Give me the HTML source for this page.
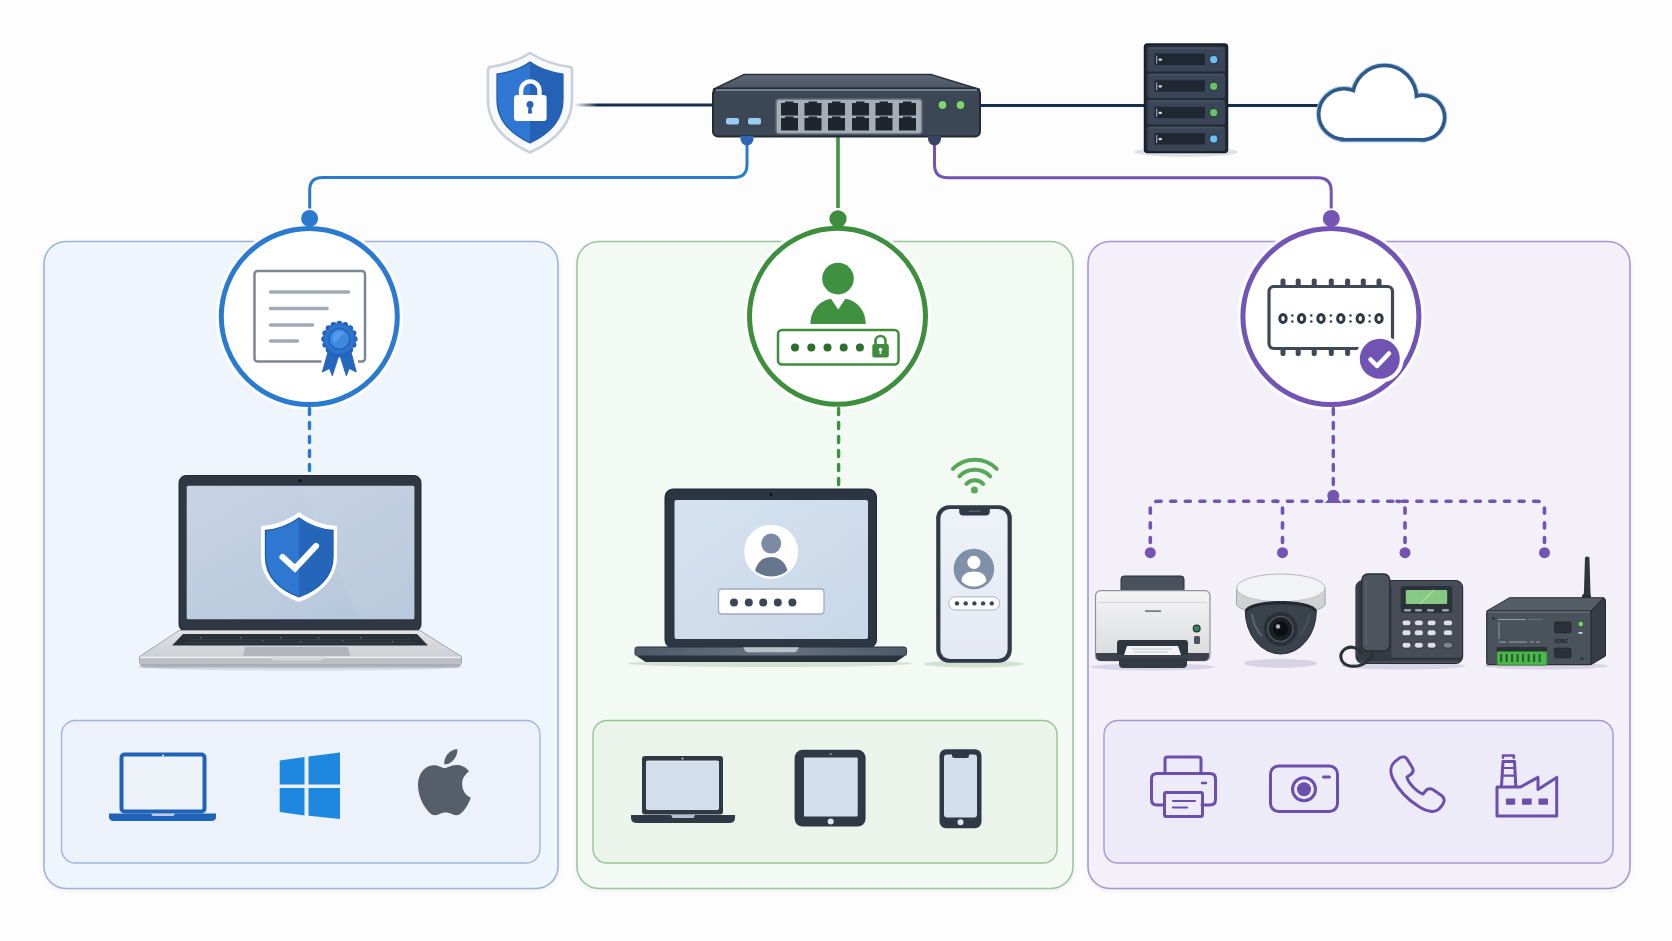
<!DOCTYPE html>
<html><head><meta charset="utf-8"><title>Network Access Control</title>
<style>
html,body{margin:0;padding:0;background:#fdfdfd;overflow:hidden;font-family:"Liberation Sans",sans-serif;}
svg{display:block}
</style></head><body>
<svg width="1672" height="941" viewBox="0 0 1672 941">
<defs>
<filter id="psh" x="-5%" y="-5%" width="110%" height="110%"><feDropShadow dx="0" dy="2" stdDeviation="2.5" flood-color="#8090a0" flood-opacity="0.12"/></filter>
<linearGradient id="scr1" x1="0" y1="0" x2="1" y2="1"><stop offset="0" stop-color="#c7d4e5"/><stop offset="1" stop-color="#b5c5da"/></linearGradient>
<linearGradient id="scr2" x1="0" y1="0" x2="1" y2="1"><stop offset="0" stop-color="#d6e2ef"/><stop offset="1" stop-color="#c8d7e8"/></linearGradient>
<linearGradient id="scr3" x1="0" y1="0" x2="0" y2="1"><stop offset="0" stop-color="#eef2f8"/><stop offset="1" stop-color="#e3e9f3"/></linearGradient>
<linearGradient id="swtop" x1="0" y1="0" x2="0" y2="1"><stop offset="0" stop-color="#5d6877"/><stop offset="1" stop-color="#4a5463"/></linearGradient>
<linearGradient id="silver" x1="0" y1="0" x2="0" y2="1"><stop offset="0" stop-color="#e1e3e6"/><stop offset="1" stop-color="#c4c8cd"/></linearGradient>
<linearGradient id="prn" x1="0" y1="0" x2="0" y2="1"><stop offset="0" stop-color="#f4f4f5"/><stop offset="1" stop-color="#d9dadd"/></linearGradient>
<linearGradient id="lbase" x1="0" y1="0" x2="1" y2="0"><stop offset="0" stop-color="#4f5a68"/><stop offset="0.5" stop-color="#687381"/><stop offset="1" stop-color="#4f5a68"/></linearGradient>
<linearGradient id="fadeL" gradientUnits="userSpaceOnUse" x1="574" y1="0" x2="713" y2="0"><stop offset="0" stop-color="#15304e" stop-opacity="0"/><stop offset="0.17" stop-color="#15304e"/><stop offset="1" stop-color="#15304e"/></linearGradient>
</defs>

<!-- ===== PANELS ===== -->
<g filter="url(#psh)">
<rect x="44" y="241.5" width="514" height="647" rx="22" fill="#eff5fd" stroke="#9ab4d9" stroke-width="1.6"/>
<rect x="577" y="241.5" width="496" height="647" rx="22" fill="#f3f9f3" stroke="#9cc79c" stroke-width="1.6"/>
<rect x="1088" y="241.5" width="542" height="647" rx="22" fill="#f3f0fa" stroke="#a796d3" stroke-width="1.6"/>
</g>
<rect x="61.5" y="720.5" width="478.5" height="142.5" rx="14" fill="#edf1f9" stroke="#9fb6d8" stroke-width="1.4"/>
<rect x="593" y="720.5" width="464" height="142.5" rx="14" fill="#ebf4eb" stroke="#96c496" stroke-width="1.4"/>
<rect x="1104" y="720.5" width="509" height="142.5" rx="14" fill="#eeebf8" stroke="#a596d3" stroke-width="1.4"/>

<!-- ===== TOP CONNECTORS ===== -->
<g fill="none" stroke-width="3">
<path d="M574 105 H713" stroke="url(#fadeL)"/>
<path d="M980 105.5 H1144" stroke="#15304e"/>
<path d="M1227 105.5 H1318" stroke="#15304e"/>
<path d="M747 145 V164.5 Q747 177.5 734 177.5 H322.5 Q309.7 177.5 309.7 190.3 V208.5" stroke="#2a7ad0"/>
<path d="M838 137 V208" stroke="#3f9140" stroke-width="3.6"/>
<path d="M934.5 145 V164.5 Q934.5 177.8 947.8 177.8 H1317.8 Q1331.2 177.8 1331.2 191 V208.5" stroke="#7254b4"/>
</g>

<!-- ===== CIRCLES ===== -->
<g>
<circle cx="309.3" cy="316.5" r="93.5" fill="#ffffff" opacity="0.85"/>
<circle cx="309.3" cy="316.5" r="88" fill="#ffffff" stroke="#2a7ad0" stroke-width="5"/>
<circle cx="309.6" cy="218.4" r="8.5" fill="#2a78d0"/>
<circle cx="837.5" cy="316.3" r="93.5" fill="#ffffff" opacity="0.85"/>
<circle cx="837.5" cy="316.3" r="88" fill="#ffffff" stroke="#3d8f3d" stroke-width="5"/>
<circle cx="838" cy="218.9" r="8.6" fill="#3d8d3d"/>
<circle cx="1330.9" cy="316.5" r="93.5" fill="#ffffff" opacity="0.85"/>
<circle cx="1330.9" cy="316.5" r="88" fill="#ffffff" stroke="#7254b4" stroke-width="5"/>
<circle cx="1331.3" cy="218.4" r="8.5" fill="#7455b5"/>
</g>

<!-- ===== DASHED ===== -->
<g fill="none" stroke-width="3.4" stroke-linecap="round" stroke-dasharray="6 8">
<path d="M309.5 408.5 V472" stroke="#2a7ad0"/>
<path d="M838.6 408.5 V486" stroke="#3f8f3f"/>
<path d="M1333.3 408.5 V490" stroke="#7254b4"/>
</g>
<g fill="none" stroke="#7254b4" stroke-width="3.6" stroke-linecap="round" stroke-dasharray="5 9.6">
<path d="M1150.3 542.5 V509 Q1150.3 501.2 1158.3 501.2 H1328"/>
<path d="M1544.5 542.5 V509 Q1544.5 501.2 1536.5 501.2 H1339"/>
<path d="M1282.5 542.5 V509 Q1282.5 501.2 1274.5 501.2"/>
<path d="M1405 542.5 V509 Q1405 501.2 1397 501.2"/>
</g>
<g fill="#7254b4">
<path d="M1324 503 Q1328 501 1329 497 H1337.6 Q1338.6 501 1342.6 503 Z"/>
<circle cx="1333.3" cy="495.8" r="6"/>
<circle cx="1150.3" cy="552.7" r="5.5"/><circle cx="1282.5" cy="552.7" r="5.5"/><circle cx="1405" cy="552.7" r="5.5"/><circle cx="1544.5" cy="552.7" r="5.5"/>
</g>

<!-- ===== TOP SHIELD ===== -->
<g>
<path d="M530 53 C541 60 555 65 570 67 Q572 67.5 572 69.5 V100 C572 124 555 141 530 152.5 C505 141 488 124 488 100 V69.5 Q488 67.5 490 67 C505 65 519 60 530 53 Z" fill="#f8f9fb" stroke="#c9d0da" stroke-width="2.6"/>
<path d="M530 62 C540 69 551 72.5 563 74 V100 C563 120 549 134 530 143 C511 134 497 120 497 100 V74 C509 72.5 520 69 530 62 Z" fill="#2f77d2" stroke="#1f58a6" stroke-width="1.2"/>
<path d="M530 62.8 C540 69.5 550.5 73 562.4 74.5 V100 C562.4 119.5 548.6 133.5 530 142.3 Z" fill="#2562b6"/>
<path d="M521.1 95.5 V90.6 A9.2 9.2 0 0 1 539.5 90.6 V95.5" fill="none" stroke="#ffffff" stroke-width="4.4"/>
<rect x="514" y="95" width="32.6" height="26" rx="3" fill="#ffffff"/>
<circle cx="530" cy="104.6" r="3.5" fill="#2563b7"/>
<path d="M528.7 106 H531.3 L532.2 113.5 H527.8 Z" fill="#2563b7"/>
</g>

<!-- ===== SWITCH ===== -->
<g>
<path d="M744 74.5 H931 L980 89.5 H713 Z" fill="url(#swtop)" stroke="#2a323d" stroke-width="1.5"/>
<rect x="713" y="88.5" width="267" height="48" rx="5" fill="#3c4756" stroke="#222a34" stroke-width="2"/>
<path d="M716 90 H977" stroke="#8a95a3" stroke-width="1.5"/>
<rect x="776" y="99" width="146" height="35" rx="3" fill="#a5adb7" stroke="#5f6976" stroke-width="1.5"/>
<g fill="#1e252d">
<path id="pt" d="M781 103 H785 V101.5 H793.5 V103 H798 V115.5 H781 Z"/>
<use href="#pt" x="23.5"/><use href="#pt" x="47"/><use href="#pt" x="71"/><use href="#pt" x="94.5"/><use href="#pt" x="118"/>
<use href="#pt" y="15"/><use href="#pt" x="23.5" y="15"/><use href="#pt" x="47" y="15"/><use href="#pt" x="71" y="15"/><use href="#pt" x="94.5" y="15"/><use href="#pt" x="118" y="15"/>
</g>
<rect x="726" y="118" width="13" height="6.5" rx="2" fill="#9acbf2"/>
<rect x="748" y="118" width="13" height="6.5" rx="2" fill="#9acbf2"/>
<circle cx="942.5" cy="105" r="4.5" fill="#84d46c" stroke="#283240" stroke-width="1"/>
<circle cx="960.5" cy="105" r="4.5" fill="#84d46c" stroke="#283240" stroke-width="1"/>
<path d="M740.5 136 V139 A6.5 6.5 0 0 0 753.5 139 V136 Z" fill="#2d66b2"/>
<path d="M928 136 V139 A6.5 6.5 0 0 0 941 139 V136 Z" fill="#3b4268"/>
</g>

<!-- ===== SERVER ===== -->
<g>
<ellipse cx="1186" cy="152" rx="52" ry="5" fill="#dde2e8"/>
<rect x="1144.5" y="44" width="83" height="108.5" rx="3" fill="#222b36" stroke="#161d26" stroke-width="1.5"/>
<rect x="1147.5" y="47" width="77.5" height="24.5" rx="2" fill="#3a4657"/>
<path d="M1149 48.2 H1223" stroke="#52607280" stroke-width="1.5"/>
<rect x="1154.5" y="53.6" width="50.5" height="11.5" rx="1" fill="#1f2833"/>
<rect x="1156" y="55.6" width="1.3" height="8" fill="#8e99a6"/>
<rect x="1158.5" y="58.6" width="3.5" height="2.2" rx="1" fill="#d8dde4"/>
<circle cx="1213.7" cy="59.6" r="4.1" fill="#6cc0f0" stroke="#1c242e" stroke-width="0.8"/>
<rect x="1147.5" y="73.5" width="77.5" height="24.5" rx="2" fill="#3a4657"/>
<path d="M1149 74.7 H1223" stroke="#52607280" stroke-width="1.5"/>
<rect x="1154.5" y="80.3" width="50.5" height="11.5" rx="1" fill="#1f2833"/>
<rect x="1156" y="82.3" width="1.3" height="8" fill="#8e99a6"/>
<rect x="1158.5" y="85.3" width="3.5" height="2.2" rx="1" fill="#d8dde4"/>
<circle cx="1213.7" cy="86.3" r="4.1" fill="#66c466" stroke="#1c242e" stroke-width="0.8"/>
<rect x="1147.5" y="100" width="77.5" height="24.5" rx="2" fill="#3a4657"/>
<path d="M1149 101.2 H1223" stroke="#52607280" stroke-width="1.5"/>
<rect x="1154.5" y="106.7" width="50.5" height="11.5" rx="1" fill="#1f2833"/>
<rect x="1156" y="108.7" width="1.3" height="8" fill="#8e99a6"/>
<rect x="1158.5" y="111.7" width="3.5" height="2.2" rx="1" fill="#d8dde4"/>
<circle cx="1213.7" cy="112.7" r="4.1" fill="#66c466" stroke="#1c242e" stroke-width="0.8"/>
<rect x="1147.5" y="126.5" width="77.5" height="24.5" rx="2" fill="#3a4657"/>
<path d="M1149 127.7 H1223" stroke="#52607280" stroke-width="1.5"/>
<rect x="1154.5" y="133" width="50.5" height="11.5" rx="1" fill="#1f2833"/>
<rect x="1156" y="135" width="1.3" height="8" fill="#8e99a6"/>
<rect x="1158.5" y="138" width="3.5" height="2.2" rx="1" fill="#d8dde4"/>
<circle cx="1213.7" cy="139" r="4.1" fill="#6cc0f0" stroke="#1c242e" stroke-width="0.8"/>
</g>

<!-- ===== CLOUD ===== -->
<g>
<g fill="#a9c0dc" stroke="#a9c0dc" stroke-width="9"><circle cx="1344" cy="114" r="23.5"/><circle cx="1384.5" cy="97.5" r="30.2"/><circle cx="1422.4" cy="117.5" r="20.4"/><rect x="1344" y="114" width="78.4" height="23.9"/></g>
<g fill="#2d5a8c" stroke="#2d5a8c" stroke-width="7"><circle cx="1344" cy="114" r="23.5"/><circle cx="1384.5" cy="97.5" r="30.2"/><circle cx="1422.4" cy="117.5" r="20.4"/><rect x="1344" y="114" width="78.4" height="23.9"/></g>
<g fill="#ffffff"><circle cx="1344" cy="114" r="23.5"/><circle cx="1384.5" cy="97.5" r="30.2"/><circle cx="1422.4" cy="117.5" r="20.4"/><rect x="1344" y="114" width="78.4" height="23.9"/></g>
</g>

<!-- ===== CERTIFICATE ===== -->
<g>
<rect x="254.5" y="271" width="110.5" height="90.5" rx="3" fill="#ffffff" stroke="#7c8795" stroke-width="2.5"/>
<g stroke="#a2aab4" stroke-width="3.6" stroke-linecap="round">
<path d="M270.5 292 H348.5"/><path d="M270.5 308.5 H327"/><path d="M270.5 325 H312.5"/><path d="M270.5 341 H297.5"/>
</g>
<path d="M321.5 355 H358 V364 H321.5 Z" fill="#ffffff"/>
<path d="M328.6 350 L339 355 L332.3 375.8 L329.5 368.5 L322.3 372 Z" fill="#2466c0" stroke="#1d58aa" stroke-width="0.8"/>
<path d="M350.5 350 L339.8 355 L346.3 375.8 L349.2 368.5 L356.3 372 Z" fill="#2466c0" stroke="#1d58aa" stroke-width="0.8"/>
<g fill="#2063bd"><circle cx="354.60" cy="339.00" r="3"/><circle cx="353.44" cy="344.82" r="3"/><circle cx="350.15" cy="349.75" r="3"/><circle cx="345.22" cy="353.04" r="3"/><circle cx="339.40" cy="354.20" r="3"/><circle cx="333.58" cy="353.04" r="3"/><circle cx="328.65" cy="349.75" r="3"/><circle cx="325.36" cy="344.82" r="3"/><circle cx="324.20" cy="339.00" r="3"/><circle cx="325.36" cy="333.18" r="3"/><circle cx="328.65" cy="328.25" r="3"/><circle cx="333.58" cy="324.96" r="3"/><circle cx="339.40" cy="323.80" r="3"/><circle cx="345.22" cy="324.96" r="3"/><circle cx="350.15" cy="328.25" r="3"/><circle cx="353.44" cy="333.18" r="3"/></g>
<circle cx="339.4" cy="339" r="15.6" fill="#2a6cc6"/>
<circle cx="339.4" cy="339" r="14.5" fill="#2f74cc"/>
<circle cx="339.4" cy="339" r="10.3" fill="#3d89df" stroke="#1f5fb3" stroke-width="1.2"/>
<path d="M332.4 337 A8 8 0 0 1 344.4 332.5 L334.4 344 Z" fill="#6aa8ee" opacity="0.55"/>
</g>

<!-- ===== USER + PASSWORD ===== -->
<g>
<circle cx="838" cy="278.6" r="15.8" fill="#3f913f"/>
<path d="M810.5 324 C810.5 310 820 300.5 831 298.8 L838.2 309.5 L845.4 298.8 C856.4 300.5 865.8 310 865.8 324 Z" fill="#3f913f"/>
<rect x="778" y="330" width="120.5" height="34.5" rx="4" fill="#ffffff" stroke="#3d8d3d" stroke-width="2.5"/>
<g fill="#2f6e2f"><circle cx="795" cy="347.5" r="4"/><circle cx="811.3" cy="347.5" r="4"/><circle cx="827.5" cy="347.5" r="4"/><circle cx="843.7" cy="347.5" r="4"/><circle cx="859.9" cy="347.5" r="4"/></g>
<path d="M875.5 344 V341 A5 5 0 0 1 885.5 341 V344" fill="none" stroke="#3d8d3d" stroke-width="2.6"/>
<rect x="872.3" y="344" width="16.5" height="13.5" rx="2" fill="#3d8d3d"/>
<circle cx="880.5" cy="349.5" r="1.8" fill="#ffffff"/><rect x="879.7" y="350" width="1.6" height="4" fill="#ffffff"/>
</g>

<!-- ===== CHIP ===== -->
<g>
<g fill="#3f4956">
<rect x="1280.5" y="278.5" width="5" height="9" rx="2"/><rect x="1295.7" y="278.5" width="5" height="9" rx="2"/><rect x="1311.7" y="278.5" width="5" height="9" rx="2"/><rect x="1328.8" y="278.5" width="5" height="9" rx="2"/><rect x="1345.1" y="278.5" width="5" height="9" rx="2"/><rect x="1360.8" y="278.5" width="5" height="9" rx="2"/><rect x="1376.5" y="278.5" width="5" height="9" rx="2"/>
<rect x="1280.5" y="347.5" width="5" height="8.5" rx="2"/><rect x="1295.7" y="347.5" width="5" height="8.5" rx="2"/><rect x="1311.7" y="347.5" width="5" height="8.5" rx="2"/><rect x="1328.8" y="347.5" width="5" height="8.5" rx="2"/><rect x="1345.1" y="347.5" width="5" height="8.5" rx="2"/><rect x="1360.8" y="347.5" width="5" height="8.5" rx="2"/>
</g>
<rect x="1269" y="286.5" width="123.5" height="62" rx="5" fill="#ffffff" stroke="#3f4956" stroke-width="3.2"/>
<g fill="none" stroke="#2f3944" stroke-width="3">
<ellipse cx="1283" cy="318.5" rx="3.2" ry="4"/><ellipse cx="1301.6" cy="318.5" rx="3.2" ry="4"/><ellipse cx="1321" cy="318.5" rx="3.2" ry="4"/><ellipse cx="1340.8" cy="318.5" rx="3.2" ry="4"/><ellipse cx="1360.3" cy="318.5" rx="3.2" ry="4"/><ellipse cx="1379" cy="318.5" rx="3.2" ry="4"/>
</g>
<g fill="#2f3944">
<circle cx="1292.3" cy="315.5" r="1.2"/><circle cx="1292.3" cy="321.5" r="1.2"/>
<circle cx="1311.3" cy="315.5" r="1.2"/><circle cx="1311.3" cy="321.5" r="1.2"/>
<circle cx="1330.9" cy="315.5" r="1.2"/><circle cx="1330.9" cy="321.5" r="1.2"/>
<circle cx="1350.5" cy="315.5" r="1.2"/><circle cx="1350.5" cy="321.5" r="1.2"/>
<circle cx="1369.6" cy="315.5" r="1.2"/><circle cx="1369.6" cy="321.5" r="1.2"/>
</g>
<circle cx="1379.8" cy="358.8" r="24" fill="#ffffff"/>
<circle cx="1379.8" cy="358.8" r="20" fill="#7153b3"/>
<path d="M1370.5 359.5 L1377 366 L1389 353.5" fill="none" stroke="#ffffff" stroke-width="4.5" stroke-linecap="round" stroke-linejoin="round"/>
</g>

<!-- ===== P1 LAPTOP ===== -->
<g>
<ellipse cx="300" cy="667" rx="163" ry="3.5" fill="#d3dbe6"/>
<rect x="179" y="475.5" width="242" height="156" rx="7" fill="#2e3742" stroke="#232a33" stroke-width="1"/>
<rect x="186.7" y="485.8" width="227.7" height="133.4" rx="1.5" fill="url(#scr1)"/>
<path d="M300 485.8 L414.4 485.8 L414.4 619.2 L360 619.2 Z" fill="#ffffff" opacity="0.06"/>
<circle cx="300" cy="480.5" r="1.6" fill="#10151b"/>
<path d="M179 630.5 H420 L461.5 656.5 V661 Q461.5 667 455.5 667 H145.5 Q139.5 667 139.5 661 V656.5 Z" fill="url(#silver)" stroke="#a3a8af" stroke-width="1"/>
<path d="M183 634 H417 L428 645.5 H172 Z" fill="#2a3139"/>
<g fill="#7b838d" opacity="0.9">
<rect x="200" y="637" width="1.2" height="1.2"/><rect x="240" y="637" width="1.2" height="1.2"/><rect x="262" y="640" width="1.2" height="1.2"/><rect x="280" y="637" width="1.2" height="1.2"/><rect x="300" y="641" width="1.2" height="1.2"/><rect x="318" y="637" width="1.2" height="1.2"/><rect x="342" y="640" width="1.2" height="1.2"/><rect x="360" y="637" width="1.2" height="1.2"/><rect x="392" y="641" width="1.2" height="1.2"/>
</g>
<path d="M190 639.5 H411 M186 642.5 H414" stroke="#3a424c" stroke-width="0.8"/>
<path d="M245 647 H348 L350 656 H243 Z" fill="#b1b5bb"/>
<path d="M140 657.5 H461" stroke="#eef0f2" stroke-width="1.3"/>
<path d="M140 658.3 V661 Q140 666.5 145.5 666.5 H455.5 Q461 666.5 461 661 V658.3 Z" fill="#bdc1c7"/>
<path d="M140 664 Q141 666.5 145.5 666.5 H455.5 Q460 666.5 461 664 Z" fill="#a9adb4"/>
<path d="M271.5 657.5 H324 L322 660.5 H273.5 Z" fill="#d2d5d9"/>
<path d="M299 512 C311 521 323 525 337 526 V557 C337 579 320 594 299 602 C278 594 261 579 261 557 V526 C275 525 287 521 299 512 Z" fill="#ffffff"/>
<path d="M299 518 C310 526 321 529.5 333 530.5 V557 C333 577 318 590 299 597 C280 590 265.5 577 265.5 557 V530.5 C277 529.5 288 526 299 518 Z" fill="#2f78d2" stroke="#1d5aa8" stroke-width="1.3"/>
<path d="M299 518.8 C310 526.6 320.5 530 332.3 531.2 V557 C332.3 576.5 317.6 589.3 299 596.2 Z" fill="#2566bb"/>
<path d="M282.5 557 L295 568.5 L316 546" fill="none" stroke="#ffffff" stroke-width="6.2" stroke-linecap="round" stroke-linejoin="miter"/>
</g>

<!-- ===== P2 LAPTOP ===== -->
<g>
<ellipse cx="770" cy="663.5" rx="142" ry="3.5" fill="#d2e2d2"/>
<rect x="665" y="489" width="211.5" height="159" rx="8" fill="#2c3642" stroke="#1f2730" stroke-width="1"/>
<rect x="674.5" y="500" width="193.5" height="139" rx="2" fill="url(#scr2)"/>
<circle cx="771" cy="494.5" r="1.6" fill="#10151b"/>
<path d="M634.5 650 Q634.5 646.6 638 646.6 H903.5 Q907 646.6 907 650 V654.5 L896 662 H645.5 L634.5 654.5 Z" fill="#27313c"/>
<path d="M635.3 647.6 H906.2 V655.5 H635.3 Z" fill="url(#lbase)"/>
<path d="M743 647.3 H799 L796.5 651.3 Q795.5 652.3 793.5 652.3 H748.5 Q746.5 652.3 745.5 651.3 Z" fill="#b9c0c8"/>
<circle cx="771.2" cy="551.7" r="26" fill="#ffffff"/>
<circle cx="771.2" cy="543.6" r="10" fill="#7b8ba3"/>
<clipPath id="avc"><circle cx="771.2" cy="551.7" r="25"/></clipPath>
<path clip-path="url(#avc)" d="M754 580 C754 564 761.5 557 771.2 557 C781 557 788.5 564 788.5 580 Z" fill="#66768e"/>
<circle cx="771.2" cy="551.7" r="26" fill="none" stroke="#ffffff" stroke-width="2"/>
<rect x="718.5" y="589" width="105.5" height="25" rx="3" fill="#ffffff" stroke="#9fadbd" stroke-width="1.3"/>
<g fill="#3b4657"><circle cx="734" cy="602.4" r="4"/><circle cx="748.8" cy="602.4" r="4"/><circle cx="763.2" cy="602.4" r="4"/><circle cx="777.8" cy="602.4" r="4"/><circle cx="792.4" cy="602.4" r="4"/></g>
</g>

<!-- ===== P2 PHONE ===== -->
<g>
<ellipse cx="974" cy="664" rx="50" ry="3.5" fill="#d2e2d2"/>
<rect x="936.2" y="505.2" width="75.6" height="157.5" rx="13" fill="#2f3a46"/>
<rect x="940.4" y="509" width="67.2" height="150" rx="9.5" fill="url(#scr3)"/>
<path d="M959.2 508.5 H989.8 V511.5 Q989.8 515.5 985.8 515.5 H963.2 Q959.2 515.5 959.2 511.5 Z" fill="#2f3a46"/>
<rect x="968.5" y="510.5" width="12" height="1.4" rx="0.7" fill="#55606d"/>
<circle cx="973.9" cy="569" r="20.3" fill="#7f90a8"/>
<circle cx="973.9" cy="562.3" r="6.6" fill="#ffffff"/>
<path d="M961.5 581 C961.5 574.5 967 571.5 973.9 571.5 C980.8 571.5 986.3 574.5 986.3 581 C983 585 978.5 586.5 973.9 586.5 C969.3 586.5 964.8 585 961.5 581 Z" fill="#ffffff"/>
<rect x="948.7" y="596.8" width="50.9" height="13.2" rx="6.6" fill="#ffffff" stroke="#a9b5c4" stroke-width="1"/>
<g fill="#3b4657"><circle cx="957" cy="603.4" r="2.2"/><circle cx="965.7" cy="603.4" r="2.2"/><circle cx="974.4" cy="603.4" r="2.2"/><circle cx="983.1" cy="603.4" r="2.2"/><circle cx="991.8" cy="603.4" r="2.2"/></g>
</g>

<!-- ===== WIFI ===== -->
<g fill="none" stroke="#58a658" stroke-width="4" stroke-linecap="round" transform="translate(0.4 1.3)">
<path d="M966 482.5 A11.5 11.5 0 0 1 982.8 482.5"/>
<path d="M959 475 A21.5 21.5 0 0 1 989.8 475"/>
<path d="M952.5 467.5 A31 31 0 0 1 996.3 467.5"/>
</g>
<circle cx="974.4" cy="490" r="3.5" fill="#5aa95a"/>

<!-- ===== PRINTER ===== -->
<g>
<ellipse cx="1153" cy="667" rx="62" ry="3.5" fill="#d9d5e6"/>
<path d="M1118 599 L1121 593 V579 Q1121 576 1124 576 H1181 Q1184 576 1184 579 V593 L1187 599 Z" fill="#48515c" stroke="#262d36" stroke-width="1"/>
<path d="M1119 598 H1186" stroke="#262d36" stroke-width="2"/>
<rect x="1095.5" y="590.6" width="114.5" height="70" rx="5" fill="url(#prn)" stroke="#8e929a" stroke-width="1.2"/>
<path d="M1098 602.5 H1207" stroke="#d3d5d9" stroke-width="1.2"/>
<path d="M1096 653 H1209 V656 Q1209 661 1203 661 H1102 Q1096 661 1096 656 Z" fill="#3c434d"/>
<path d="M1117 655 V643 Q1117 640 1120 640 H1185 Q1188 640 1188 643 V655 Z" fill="#2e353e"/>
<path d="M1124 655 L1127 646 H1178 L1181 655 Z" fill="#f4f4f4"/>
<path d="M1132 649 H1172 M1134 652 H1168" stroke="#b9bcc2" stroke-width="0.8"/>
<path d="M1119 658 H1187 V664 Q1187 668 1183 668 H1123 Q1119 668 1119 664 Z" fill="#323a44"/>
<rect x="1145" y="610.3" width="16" height="1.6" fill="#6b7079"/>
<circle cx="1196.7" cy="628.5" r="3.4" fill="#2f8a4d" stroke="#2a313a" stroke-width="1.2"/>
<rect x="1194" y="636" width="6" height="8" rx="1.5" fill="#4c535d"/>
</g>

<!-- ===== DOME CAMERA ===== -->
<g>
<ellipse cx="1280.7" cy="663.3" rx="36.4" ry="4.5" fill="#d6d3e2"/>
<path d="M1236.5 588 V604 A44.3 10 0 0 0 1325.1 604 V588 Z" fill="#cfd1d5" stroke="#a3a7ad" stroke-width="1"/>
<ellipse cx="1280.8" cy="588" rx="44.3" ry="14" fill="#f2f3f4" stroke="#b4b8be" stroke-width="1"/>
<path d="M1239 592 A42 11 0 0 0 1322.6 592" fill="none" stroke="#c9ccd1" stroke-width="1.5"/>
<path d="M1245.3 611 A35.5 9.5 0 0 1 1316.3 611 A35.5 43 0 0 1 1245.3 611 Z" fill="#3a424c" stroke="#242a31" stroke-width="1"/>
<path d="M1246 611 A35 9 0 0 1 1315.6 611" fill="none" stroke="#22282f" stroke-width="2.5"/>
<path d="M1252 614 C1253 622 1256 630 1262 636" stroke="#6a727c" stroke-width="1.8" fill="none" opacity="0.8"/>
<path d="M1309 614 C1308 622 1305 630 1299 636" stroke="#5a626c" stroke-width="1.5" fill="none" opacity="0.6"/>
<circle cx="1280.5" cy="629" r="17" fill="#2a3037"/>
<circle cx="1280.5" cy="629" r="12.5" fill="#1b2026" stroke="#4d5560" stroke-width="1.5"/>
<circle cx="1280.5" cy="629" r="7.5" fill="#0c0f13"/>
<circle cx="1278" cy="626.5" r="2.2" fill="#a9b3be"/>
</g>

<!-- ===== DESK PHONE ===== -->
<g>
<ellipse cx="1403" cy="666" rx="62" ry="3.5" fill="#d9d5e6"/>
<rect x="1356" y="580.5" width="106.6" height="83" rx="7" fill="#464d57" stroke="#2a3038" stroke-width="1.2"/>
<path d="M1357 659 H1462" stroke="#30363e" stroke-width="3"/>
<rect x="1357.5" y="581" width="34" height="80" rx="6" fill="#343a43"/>
<rect x="1400.7" y="586" width="51.6" height="27" rx="3" fill="#2c323a"/>
<rect x="1405.8" y="590" width="41.4" height="14" rx="1" fill="#86c982"/>
<path d="M1420 604 L1434 590" stroke="#b8e6b3" stroke-width="2" opacity="0.5"/>
<g fill="#9aa1a9"><rect x="1404" y="609" width="7" height="2.6" rx="1"/><rect x="1415" y="609" width="7" height="2.6" rx="1"/><rect x="1427" y="609" width="7" height="2.6" rx="1"/><rect x="1442" y="609" width="7" height="2.6" rx="1"/></g>
<g fill="#dcdfe3" stroke="#2a3038" stroke-width="0.8">
<rect x="1402" y="620" width="9" height="5.8" rx="2.8"/><rect x="1414.3" y="620" width="9" height="5.8" rx="2.8"/><rect x="1427.1" y="620" width="9" height="5.8" rx="2.8"/>
<rect x="1402" y="629.8" width="9" height="6" rx="2.5"/><rect x="1414.3" y="629.8" width="9" height="6" rx="2.5"/><rect x="1427.1" y="629.8" width="9" height="6" rx="2.5"/>
<rect x="1402" y="642.3" width="9" height="5.8" rx="2.8"/><rect x="1414.3" y="642.3" width="9" height="5.8" rx="2.8"/><rect x="1427.1" y="642.3" width="9" height="5.8" rx="2.8"/>
<rect x="1443.2" y="620" width="9.5" height="5.8" rx="2.9"/><rect x="1443.2" y="629.8" width="9.5" height="5.8" rx="2.9"/>
</g>
<rect x="1443.2" y="642.3" width="9.5" height="5.8" rx="2.9" fill="#7d858f" stroke="#2a3038" stroke-width="0.8"/>
<rect x="1361.8" y="574" width="28" height="77" rx="6" fill="#4b535d" stroke="#262c33" stroke-width="1.3"/>
<path d="M1366 580 V645" stroke="#5a626c" stroke-width="2" opacity="0.7"/>
<path d="M1373 651 C1372 660 1362 668 1350 666 C1340 664 1338 654 1345 649 C1351 645 1358 648 1361 653" fill="none" stroke="#2b3139" stroke-width="3" stroke-linecap="round"/>
</g>

<!-- ===== GATEWAY ===== -->
<g>
<ellipse cx="1546" cy="666" rx="62" ry="3.5" fill="#d9d5e6"/>
<path d="M1585 557.5 Q1587.2 555.5 1589.4 557.5 L1590.6 596 H1583.8 Z" fill="#2f353d"/>
<rect x="1582" y="594" width="9" height="9" rx="2" fill="#2a3038"/>
<path d="M1486.7 611 L1509.5 597.7 H1603.5 L1591 611 Z" fill="#555d67" stroke="#2b3139" stroke-width="1"/>
<path d="M1591 611 L1603.5 597.7 Q1605.5 598.5 1605.5 601 V656 L1591 664.7 Z" fill="#363c45" stroke="#22282f" stroke-width="1"/>
<rect x="1486.7" y="611" width="104.3" height="53.7" rx="2.5" fill="#4a525c" stroke="#2b3139" stroke-width="1.2"/>
<path d="M1488 612.2 H1590" stroke="#6a727c" stroke-width="1.2"/>
<circle cx="1493.5" cy="618.5" r="1.3" fill="#23292f"/>
<path d="M1498 619.5 H1526 M1499 622 V639" stroke="#b9c0c8" stroke-width="0.9" opacity="0.75"/>
<path d="M1528 619.5 H1542" stroke="#9aa1a9" stroke-width="0.7" opacity="0.6"/>
<path d="M1499 642 H1506 M1509 642 H1527 M1530 642 H1534 M1536 642 H1540" stroke="#b9c0c8" stroke-width="1" opacity="0.75"/>
<rect x="1554.5" y="621.9" width="16.5" height="11" rx="1" fill="#2b3138" stroke="#1e2329" stroke-width="0.6"/>
<rect x="1554.5" y="648" width="16.5" height="9.8" rx="1" fill="#2b3138" stroke="#1e2329" stroke-width="0.6"/>
<text x="1554.5" y="643" font-family="Liberation Sans, sans-serif" font-size="7" font-weight="bold" fill="#1f242a">lcac</text>
<circle cx="1580.7" cy="624" r="3" fill="#6fd15f" stroke="#2a3038" stroke-width="0.8"/>
<rect x="1578.5" y="632" width="4" height="1.8" fill="#c8cdd2"/>
<circle cx="1582" cy="658.5" r="1.6" fill="#2b3138"/>
<rect x="1496.5" y="647" width="50.5" height="5" fill="#2b3138"/>
<rect x="1497" y="651.6" width="50" height="13.5" rx="1" fill="#4cb84c" stroke="#2f7a2f" stroke-width="0.8"/>
<g fill="#22632a"><rect x="1500" y="654" width="2.2" height="8"/><rect x="1505.5" y="654" width="2.2" height="8"/><rect x="1511" y="654" width="2.2" height="8"/><rect x="1516.5" y="654" width="2.2" height="8"/><rect x="1522" y="654" width="2.2" height="8"/><rect x="1527.5" y="654" width="2.2" height="8"/><rect x="1533" y="654" width="2.2" height="8"/><rect x="1538.5" y="654" width="2.2" height="8"/></g>
</g>

<!-- ===== P1 BOTTOM ICONS ===== -->
<g>
<rect x="121.5" y="754.5" width="83" height="57" rx="3" fill="#eef3fa" stroke="#1f63b8" stroke-width="4"/>
<circle cx="163" cy="755.5" r="1" fill="#ffffff"/>
<path d="M109 813.5 H216 V817 Q216 821 211 821 H114 Q109 821 109 817 Z" fill="#1f63b8"/>
<path d="M151 813.5 H175 L173.5 816 H152.5 Z" fill="#b9cbe6"/>
<g fill="#1e88e0">
<path d="M279.7 760.5 L304.5 757 V784.5 H279.7 Z"/>
<path d="M308.5 756.5 L340 752.5 V784.5 H308.5 Z"/>
<path d="M279.7 788 H304.5 V815.5 L279.7 812 Z"/>
<path d="M308.5 788 H340 V819 L308.5 815.8 Z"/>
</g>
<path transform="translate(412 749) scale(2.7 2.76)" fill="#555e69" d="M12.152 6.896c-.948 0-2.415-1.078-3.96-1.04-2.04.027-3.91 1.183-4.961 3.014-2.117 3.675-.546 9.103 1.519 12.09 1.013 1.454 2.208 3.09 3.792 3.039 1.52-.065 2.09-.987 3.935-.987 1.831 0 2.35.987 3.96.948 1.637-.026 2.676-1.48 3.676-2.948 1.156-1.688 1.636-3.325 1.662-3.415-.039-.013-3.182-1.221-3.22-4.857-.026-3.04 2.48-4.494 2.597-4.559-1.429-2.09-3.623-2.324-4.39-2.376-2-.156-3.675 1.09-4.61 1.09zM15.53 3.83c.843-1.012 1.4-2.427 1.245-3.83-1.207.052-2.662.805-3.532 1.818-.78.896-1.454 2.338-1.273 3.714 1.338.104 2.715-.688 3.559-1.701"/>
</g>

<!-- ===== P2 BOTTOM ICONS ===== -->
<g>
<rect x="642" y="756" width="81" height="58.5" rx="3" fill="#2f3945"/>
<rect x="646.5" y="761" width="72" height="48.5" rx="1" fill="#d2deeb" stroke="#f3f6fa" stroke-width="0.8"/>
<circle cx="682.5" cy="758.5" r="1" fill="#c9d2dc"/>
<path d="M631 815 H735 V818 Q735 823 729 823 H637 Q631 823 631 818 Z" fill="#2f3945"/>
<path d="M671 815 H695 L693.5 818 H672.5 Z" fill="#b7c0ca"/>
<rect x="794.6" y="749.8" width="71" height="76.8" rx="8" fill="#2f3945"/>
<rect x="804" y="757.5" width="53.7" height="59" rx="1" fill="#d2deeb"/>
<circle cx="830.7" cy="821.4" r="3" fill="#e3e8ee"/>
<circle cx="830.7" cy="754" r="0.9" fill="#9aa4ae"/>
<rect x="939.5" y="749.2" width="42" height="79" rx="6.5" fill="#2f3945"/>
<rect x="944" y="754.5" width="33" height="63" rx="3" fill="#d2deeb"/>
<path d="M952 754 H969 V755.5 Q969 758 966.5 758 H954.5 Q952 758 952 755.5 Z" fill="#2f3945"/>
<circle cx="960.5" cy="822.3" r="3" fill="#e3e8ee"/>
</g>

<!-- ===== P3 BOTTOM ICONS ===== -->
<g fill="none" stroke="#6a4fae" stroke-width="3" stroke-linejoin="round" stroke-linecap="round">
<path d="M1165 773 V759.5 Q1165 757 1167.5 757 H1198.5 Q1201 757 1201 759.5 V773"/>
<path d="M1164.5 805 H1157 Q1151.5 805 1151.5 799.5 V779 Q1151.5 773.5 1157 773.5 H1210 Q1215.5 773.5 1215.5 779 V799.5 Q1215.5 805 1210 805 H1202"/>
<path d="M1166 792.5 H1201 Q1202.5 792.5 1202.5 794 V814.5 Q1202.5 816.5 1200.5 816.5 H1166 Q1164.5 816.5 1164.5 814.5 V794 Q1164.5 792.5 1166 792.5 Z"/>
<path d="M1173 801 H1195 M1173 807.5 H1187" stroke-width="2.2"/>
<path d="M1202 783 H1206" stroke-width="2.4"/>
<rect x="1270.5" y="766" width="67" height="45.5" rx="8"/>
<circle cx="1304" cy="789.3" r="11.5"/>
<path d="M1323.5 777 H1329.5" stroke-width="3"/>
<path d="M1397 760 C1401 756 1405 756 1407 759 L1412 767 C1414 770 1413 773 1410 775 L1407 777 C1408 783 1417 792 1423 794 L1425.5 791 C1427.5 788.5 1431 788 1433.5 790 L1441.5 795.5 C1445 798 1445 802 1442 805.5 L1439 809 C1435 813 1427 812 1418 806 C1407 799 1398 789 1393 779 C1389 771 1391 764 1397 760 Z"/>
<path d="M1497 816 V787 H1520.5 L1538 777.4 V789.5 L1556.7 777.4 V816 Z"/>
<path d="M1501.5 786 L1503 761.5 H1514.5 L1515.8 786"/>
<path d="M1503 757.8 V755.5 H1513.8 V757.8" stroke-width="2.6"/>
<path d="M1503 768 H1514.8 M1502.5 775.7 H1515.2" stroke-width="2.2"/>
</g>
<g fill="#6a4fae">
<circle cx="1304" cy="789.3" r="7"/>
<rect x="1505.9" y="798.4" width="9.3" height="6.3" rx="0.8"/><rect x="1522" y="798.4" width="9.7" height="6.3" rx="0.8"/><rect x="1538.5" y="798.4" width="9.5" height="6.3" rx="0.8"/>
</g>

<!-- ICONS_PLACEHOLDER -->

</svg>
</body></html>
